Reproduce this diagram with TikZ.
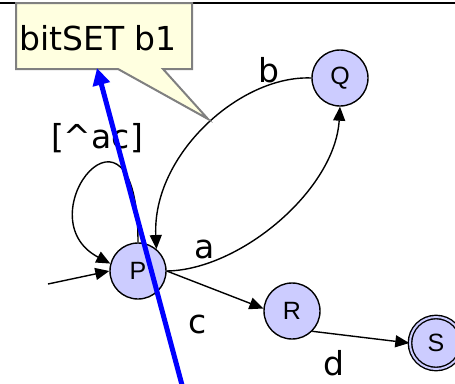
\documentclass[tikz,border=0pt]{standalone}
\usepackage{fontspec}
\setmainfont{DejaVu Sans}
\newfontfamily\nodefont{Liberation Sans}
\usetikzlibrary{arrows.meta}
\definecolor{stfill}{RGB}{204,204,255}
\definecolor{notefill}{RGB}{255,255,224}
\definecolor{notedraw}{RGB}{128,128,128}
\definecolor{pureblue}{RGB}{0,0,255}
\begin{document}
\begin{tikzpicture}[x=1pt,y=-1pt,
  state/.style={circle, draw=black, line width=1.4pt, fill=stfill, minimum size=56pt, inner sep=0pt, font=\nodefont\fontsize{25}{25}\selectfont},
  accept/.style={state, minimum size=52pt, double=stfill, double distance=2pt},
  trans/.style={line width=1.4pt, -{Triangle[length=14pt,width=12pt]}},
  lbl/.style={anchor=base, inner sep=0pt, font=\fontsize{33}{33}\selectfont},
  note/.style={fill=notefill, draw=notedraw, line width=2pt},
  marker/.style={draw=pureblue, line width=5pt, -{Triangle[length=17pt,width=17pt]}}
]
\useasboundingbox (0,0) rectangle (455,383);
\draw[line width=2.5pt] (0,3) -- (455,3);

\node[state] (Q) at (340,78) {Q};
\node[state] (P) at (138,271) {P};
\node[state] (R) at (292,311) {R};
\node[accept] (S) at (436,343) {S};

\coordinate (init) at (48,284);
\draw[trans] (init) -- (P.west);
\draw[trans] (P.north) .. controls (138,73) and (22,217) .. (P.165);
\draw[trans] (Q.west) .. controls (240,75) and (152,155) .. (P.50);
\draw[trans] (P.east) .. controls (240,270) and (335,190) .. (Q.south);
\draw[trans] (P.east) -- (R.175);
\draw[trans] (R.-45) -- (S.west);

\node[lbl] (lloop) at (97,148) {[\textasciicircum ac]};
\node[lbl] (la) at (205,258) {a};
\node[lbl] (lb) at (269,82) {b};
\node[lbl] (lc) at (198,333) {c};
\node[lbl] (ld) at (334,375) {d};

\draw[note] (16,3) -- (192,3) -- (192,69) -- (163,69) -- (208,119) -- (118,69) -- (16,69) -- cycle;
\node[lbl] (notetext) at (98,50) {bitSET b1};

\coordinate (mstart) at (182,385);
\coordinate (mtip) at (97,68);
\draw[marker] (mstart) -- (mtip);
\end{tikzpicture}
\end{document}
